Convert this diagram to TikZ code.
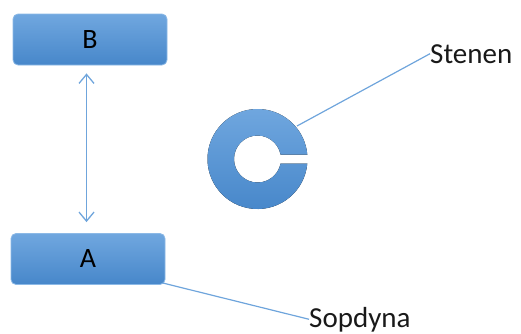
\documentclass[tikz,border=0pt]{standalone}
\usepackage{fontspec}
\setmainfont{Carlito}
\usetikzlibrary{arrows.meta,calc}
\definecolor{boxtop}{HTML}{70A7DF}
\definecolor{boxbot}{HTML}{4787CA}
\definecolor{boxedge}{HTML}{8CB9E6}
\definecolor{linecol}{HTML}{6FA5DC}
\begin{document}
\begin{tikzpicture}[x=1pt,y=-1pt,
  bluebox/.style={rectangle, rounded corners=5pt, draw=boxedge, line width=0.8pt,
    top color=boxtop, bottom color=boxbot, minimum width=154pt, minimum height=51pt,
    inner sep=0pt, font=\fontsize{28}{30}\selectfont, text=black},
  callout/.style={draw=linecol, line width=1.2pt},
  lbl/.style={inner sep=0pt, anchor=base west, font=\fontsize{29}{32}\selectfont, text=black!90}]
\useasboundingbox (0,0) rectangle (521,333);
\node[bluebox] (B) at (90,39.5) {B};
\node[bluebox] (A) at (88,259) {A};
\draw[draw=linecol, line width=1.1pt, {Straight Barb[length=9pt,width=15pt,line width=1.3pt]}-{Straight Barb[length=9pt,width=15pt,line width=1.3pt]}]
  ($(B.south)+(-3.5,8)$) coordinate (t1) -- ($(A.north)+(-1.5,-11)$) coordinate (t2);
% C-shaped stone
\fill[top color=boxtop, bottom color=boxbot]
  (307.3,163.5) arc[start angle=5.16, end angle=354.84, radius=50]
  -- (280.56,154.5) arc[start angle=348.96, end angle=11.04, radius=23.5] -- cycle;
\coordinate (C) at (297,126);
\node[lbl] (S) at (430,63) {Stenen};
\node[lbl] (D) at (309,327) {Sopdyna};
\draw[callout] (C) -- (S.west);
\draw[callout] ($(A.south east)+(-3,-2)$) -- (D.west);
\end{tikzpicture}
\end{document}
